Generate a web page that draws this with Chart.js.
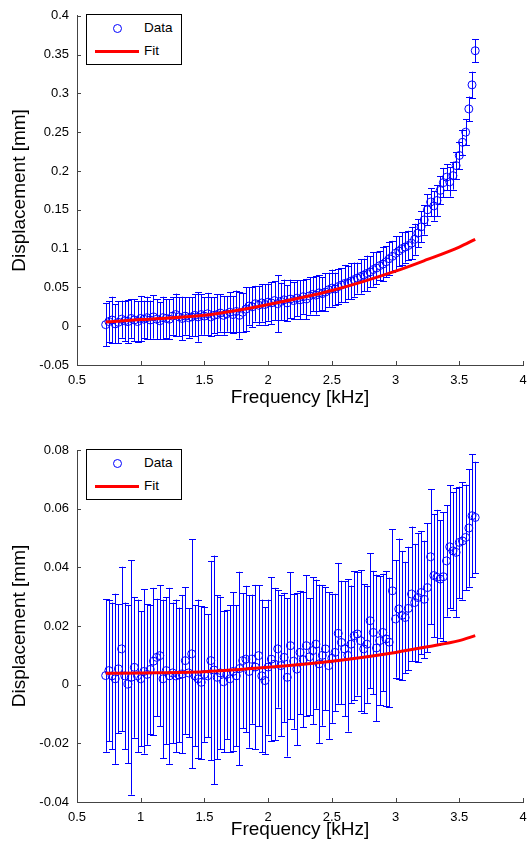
<!DOCTYPE html>
<html>
<head>
<meta charset="utf-8">
<script src="https://cdn.jsdelivr.net/npm/chart.js@4.4.0/dist/chart.umd.min.js"></script>
<style>
  body { margin: 0; background: #fff; }
  #wrap { position: relative; width: 528px; height: 844px; }
  canvas { position: absolute; left: 0; }
  #topChart { top: 0; }
  #bottomChart { top: 422px; }
  .legend { position: absolute; left: 86px; width: 94px; height: 49px; border: 1px solid #000; background: #fff;
            font: 13.5px "Liberation Sans", Arial, sans-serif; color: #000; }
  .legend .mk { position: absolute; left: 25.5px; top: 8.5px; width: 7px; height: 7px; border: 1px solid #0000ff; border-radius: 50%; }
  .legend .ln { position: absolute; left: 8px; top: 34.5px; width: 44px; height: 3px; background: #ff0000; }
  .legend .t1 { position: absolute; left: 57px; top: 5px; line-height: 16px; }
  .legend .t2 { position: absolute; left: 57px; top: 28px; line-height: 16px; }
</style>
</head>
<body>
<div id="wrap">
  <canvas id="topChart" width="528" height="422"></canvas>
  <canvas id="bottomChart" width="528" height="422"></canvas>
  <div class="legend" style="top:14px"><span class="mk"></span><span class="t1">Data</span><span class="ln"></span><span class="t2">Fit</span></div>
  <div class="legend" style="top:449px"><span class="mk"></span><span class="t1">Data</span><span class="ln"></span><span class="t2">Fit</span></div>
</div>
<script>
// frequency of each measurement [kHz]
const freq = [
  0.725, 0.75, 0.775, 0.8, 0.825, 0.85, 0.875, 0.9, 0.925, 0.95,
  0.975, 1.0, 1.025, 1.05, 1.075, 1.1, 1.125, 1.15, 1.175, 1.2,
  1.225, 1.25, 1.275, 1.3, 1.325, 1.35, 1.375, 1.4, 1.425, 1.45,
  1.475, 1.5, 1.525, 1.55, 1.575, 1.6, 1.625, 1.65, 1.675, 1.7,
  1.725, 1.75, 1.775, 1.8, 1.825, 1.85, 1.875, 1.9, 1.925, 1.95,
  1.975, 2.0, 2.025, 2.05, 2.075, 2.1, 2.125, 2.15, 2.175, 2.2,
  2.225, 2.25, 2.275, 2.3, 2.325, 2.35, 2.375, 2.4, 2.425, 2.45,
  2.475, 2.5, 2.525, 2.55, 2.575, 2.6, 2.625, 2.65, 2.675, 2.7,
  2.725, 2.75, 2.775, 2.8, 2.825, 2.85, 2.875, 2.9, 2.925, 2.95,
  2.975, 3.0, 3.025, 3.05, 3.075, 3.1, 3.125, 3.15, 3.175, 3.2,
  3.225, 3.25, 3.275, 3.3, 3.325, 3.35, 3.375, 3.4, 3.425, 3.45,
  3.475, 3.5, 3.525, 3.55, 3.575, 3.6, 3.625
];

// top plot: displacement [mm] and error
const dispTop = [
  0.002, 0.006, 0.008, 0.003, 0.005, 0.009, 0.007, 0.006, 0.010, 0.008,
  0.006, 0.010, 0.009, 0.011, 0.008, 0.012, 0.009, 0.007, 0.011, 0.010,
  0.009, 0.013, 0.015, 0.012, 0.010, 0.013, 0.011, 0.012, 0.014, 0.012,
  0.015, 0.013, 0.016, 0.012, 0.014, 0.015, 0.017, 0.014, 0.016, 0.018,
  0.015, 0.019, 0.014, 0.018, 0.022, 0.026, 0.025, 0.029, 0.027, 0.030,
  0.028, 0.031, 0.030, 0.033, 0.029, 0.032, 0.034, 0.030, 0.035, 0.033,
  0.036, 0.034, 0.038, 0.035, 0.039, 0.041, 0.040, 0.043, 0.042, 0.044,
  0.047, 0.049, 0.048, 0.051, 0.053, 0.055, 0.056, 0.058, 0.060, 0.062,
  0.064, 0.066, 0.068, 0.070, 0.073, 0.075, 0.078, 0.080, 0.083, 0.087,
  0.090, 0.094, 0.097, 0.100, 0.102, 0.104, 0.107, 0.112, 0.120, 0.128,
  0.137, 0.150, 0.160, 0.155, 0.162, 0.175, 0.185, 0.192, 0.186, 0.194,
  0.207, 0.220, 0.237, 0.250, 0.280, 0.311, 0.355
];
const errTop = [
  0.028, 0.026, 0.030, 0.025, 0.027, 0.024, 0.026, 0.028, 0.025, 0.027,
  0.026, 0.029, 0.024, 0.027, 0.025, 0.028, 0.026, 0.024, 0.027, 0.025,
  0.026, 0.024, 0.027, 0.025, 0.028, 0.024, 0.026, 0.025, 0.027, 0.032,
  0.026, 0.024, 0.027, 0.025, 0.023, 0.026, 0.024, 0.025, 0.023, 0.026,
  0.024, 0.027, 0.030, 0.025, 0.028, 0.024, 0.026, 0.023, 0.025, 0.024,
  0.026, 0.024, 0.027, 0.025, 0.037, 0.024, 0.026, 0.023, 0.025, 0.024,
  0.023, 0.025, 0.022, 0.026, 0.024, 0.022, 0.025, 0.023, 0.021, 0.024,
  0.022, 0.024, 0.021, 0.023, 0.022, 0.024, 0.021, 0.023, 0.022, 0.020,
  0.022, 0.021, 0.023, 0.020, 0.022, 0.021, 0.019, 0.022, 0.020, 0.021,
  0.020, 0.022, 0.019, 0.021, 0.020, 0.019, 0.021, 0.020, 0.018, 0.020,
  0.019, 0.020, 0.018, 0.019, 0.020, 0.018, 0.019, 0.017, 0.019, 0.018,
  0.017, 0.018, 0.016, 0.017, 0.016, 0.017, 0.015
];

// bottom plot: displacement [mm] and error
const dispBottom = [
  0.0031, 0.0048, 0.0030, 0.0020, 0.0054, 0.0122, 0.0030, 0.0002, 0.0025, 0.0059,
  0.0030, 0.0020, 0.0045, 0.0035, 0.0052, 0.0080, 0.0093, 0.0099, 0.0020, 0.0048,
  0.0030, 0.0040, 0.0030, 0.0033, 0.0036, 0.0082, 0.0040, 0.0105, 0.0030, 0.0020,
  0.0008, 0.0035, 0.0030, 0.0082, 0.0050, 0.0025, 0.0040, 0.0010, 0.0035, 0.0020,
  0.0045, 0.0030, 0.0055, 0.0082, 0.0087, 0.0045, 0.0087, 0.0060, 0.0099, 0.0030,
  0.0014, 0.0060, 0.0087, 0.0070, 0.0122, 0.0065, 0.0093, 0.0025, 0.0133, 0.0080,
  0.0053, 0.0110, 0.0085, 0.0133, 0.0095, 0.0116, 0.0138, 0.0071, 0.0100, 0.0122,
  0.0065, 0.0090, 0.0110, 0.0175, 0.0144, 0.0122, 0.0100, 0.0138, 0.0167, 0.0173,
  0.0150, 0.0122, 0.0138, 0.0218, 0.0178, 0.0125, 0.0150, 0.0178, 0.0156, 0.0145,
  0.0320, 0.0224, 0.0258, 0.0236, 0.0229, 0.0260, 0.0309, 0.0280, 0.0297, 0.0314,
  0.0291, 0.0331, 0.0436, 0.0372, 0.0366, 0.0360, 0.0368, 0.0422, 0.0470, 0.0456,
  0.0451, 0.0485, 0.0490, 0.0502, 0.0534, 0.0576, 0.0570
];
const errBottom = [
  0.026, 0.024, 0.025, 0.029, 0.022, 0.028, 0.025, 0.027, 0.040, 0.024,
  0.026, 0.023, 0.028, 0.024, 0.022, 0.025, 0.020, 0.024, 0.027, 0.025,
  0.030, 0.024, 0.026, 0.023, 0.027, 0.025, 0.022, 0.039, 0.024, 0.027,
  0.026, 0.023, 0.021, 0.034, 0.039, 0.028, 0.026, 0.024, 0.022, 0.025,
  0.027, 0.024, 0.033, 0.023, 0.025, 0.026, 0.022, 0.028, 0.024, 0.026,
  0.025, 0.023, 0.028, 0.026, 0.020, 0.024, 0.022, 0.027, 0.025, 0.023,
  0.026, 0.021, 0.023, 0.024, 0.020, 0.025, 0.022, 0.027, 0.024, 0.021,
  0.025, 0.022, 0.020, 0.024, 0.021, 0.023, 0.026, 0.020, 0.022, 0.021,
  0.024, 0.022, 0.020, 0.023, 0.021, 0.025, 0.022, 0.020, 0.023, 0.022,
  0.021, 0.020, 0.024, 0.022, 0.019, 0.021, 0.023, 0.020, 0.022, 0.021,
  0.020, 0.022, 0.023, 0.021, 0.023, 0.020, 0.022, 0.019, 0.021, 0.020,
  0.022, 0.019, 0.020, 0.018, 0.020, 0.021, 0.019
];

// fitted curves
const fitFreq = [0.725, 1.0, 1.5, 2.0, 2.5, 3.0, 3.25, 3.5, 3.625];
const fitTop = [0.0055, 0.0085, 0.014, 0.028, 0.046, 0.071, 0.086, 0.102, 0.112];
const fitBottom = [0.0039, 0.0040, 0.0044, 0.0059, 0.0080, 0.0110, 0.0129, 0.0150, 0.0167];

const FONT = 'Liberation Sans, Arial, Helvetica, sans-serif';
const AXIS = '#444';

// error bars drawn under the markers
const errorBars = {
  id: 'errorBars',
  beforeDatasetsDraw(chart, args, opts) {
    const { ctx, scales: { x, y } } = chart;
    const pts = chart.data.datasets[0].data;
    ctx.save();
    ctx.strokeStyle = '#0000ff';
    ctx.lineWidth = 1;
    ctx.beginPath();
    pts.forEach((p, i) => {
      const px = Math.round(x.getPixelForValue(p.x)) + 0.5;
      const hi = y.getPixelForValue(p.y + opts.err[i]);
      const lo = y.getPixelForValue(p.y - opts.err[i]);
      ctx.moveTo(px, hi); ctx.lineTo(px, lo);
      ctx.moveTo(px - 3.5, Math.round(hi) + 0.5); ctx.lineTo(px + 3.5, Math.round(hi) + 0.5);
      ctx.moveTo(px - 3.5, Math.round(lo) + 0.5); ctx.lineTo(px + 3.5, Math.round(lo) + 0.5);
    });
    ctx.stroke();
    ctx.restore();
  }
};

// inward tick marks, matlab style
const innerTicks = {
  id: 'innerTicks',
  afterDraw(chart) {
    const { ctx, chartArea: a, scales: { x, y } } = chart;
    ctx.save();
    ctx.strokeStyle = AXIS;
    ctx.lineWidth = 1;
    ctx.beginPath();
    x.ticks.forEach(t => {
      const px = Math.round(x.getPixelForValue(t.value)) + 0.5;
      ctx.moveTo(px, a.bottom); ctx.lineTo(px, a.bottom - 4);
    });
    y.ticks.forEach(t => {
      const py = Math.round(y.getPixelForValue(t.value)) + 0.5;
      ctx.moveTo(a.left, py); ctx.lineTo(a.left + 4, py);
    });
    ctx.stroke();
    ctx.restore();
  }
};

const fmt = v => String(+v.toFixed(3));

function makeChart(id, disp, err, fit, yMin, yMax, yStep, padTop, xHeight, xTitlePad) {
  const ctx = document.getElementById(id).getContext('2d');
  return new Chart(ctx, {
    type: 'scatter',
    data: {
      datasets: [
        {
          label: 'Data',
          data: freq.map((f, i) => ({ x: f, y: disp[i] })),
          pointStyle: 'circle',
          pointRadius: 4,
          pointBorderWidth: 1,
          borderColor: '#0000ff',
          backgroundColor: 'rgba(0,0,0,0)',
          order: 1
        },
        {
          label: 'Fit',
          type: 'line',
          data: fitFreq.map((f, i) => ({ x: f, y: fit[i] })),
          borderColor: '#ff0000',
          borderWidth: 3,
          pointRadius: 0,
          cubicInterpolationMode: 'monotone',
          fill: false,
          order: 0
        }
      ]
    },
    options: {
      responsive: false,
      animation: false,
      devicePixelRatio: 1,
      layout: { padding: { left: 0, top: padTop, right: 4, bottom: 0 } },
      plugins: {
        legend: { display: false },
        tooltip: { enabled: false },
        errorBars: { err: err }
      },
      scales: {
        x: {
          type: 'linear',
          min: 0.5,
          max: 4,
          afterFit: s => { s.height = xHeight; s.paddingRight = 0; },
          grid: { display: true, drawOnChartArea: false, drawTicks: false },
          border: { display: true, color: AXIS, width: 1 },
          ticks: { stepSize: 0.5, padding: 8, color: '#000', font: { family: FONT, size: 13 }, callback: fmt, maxRotation: 0, autoSkip: false },
          title: { display: true, text: 'Frequency [kHz]', color: '#000', font: { family: FONT, size: 19 }, padding: { top: 0, bottom: xTitlePad } }
        },
        y: {
          min: yMin,
          max: yMax,
          afterFit: s => { s.width = 77; },
          grid: { display: true, drawOnChartArea: false, drawTicks: false },
          border: { display: true, color: AXIS, width: 1 },
          ticks: { stepSize: yStep, padding: 8, color: '#000', font: { family: FONT, size: 13 }, callback: fmt },
          title: { display: true, text: 'Displacement [mm]', color: '#000', font: { family: FONT, size: 19 }, padding: { top: 8.6, bottom: 0 } }
        }
      }
    },
    plugins: [errorBars, innerTicks]
  });
}

makeChart('topChart', dispTop, errTop, fitTop, -0.05, 0.4, 0.05, 14, 57, 12.6);
makeChart('bottomChart', dispBottom, errBottom, fitBottom, -0.04, 0.08, 0.02, 28, 42, 2.6);
</script>
</body>
</html>
